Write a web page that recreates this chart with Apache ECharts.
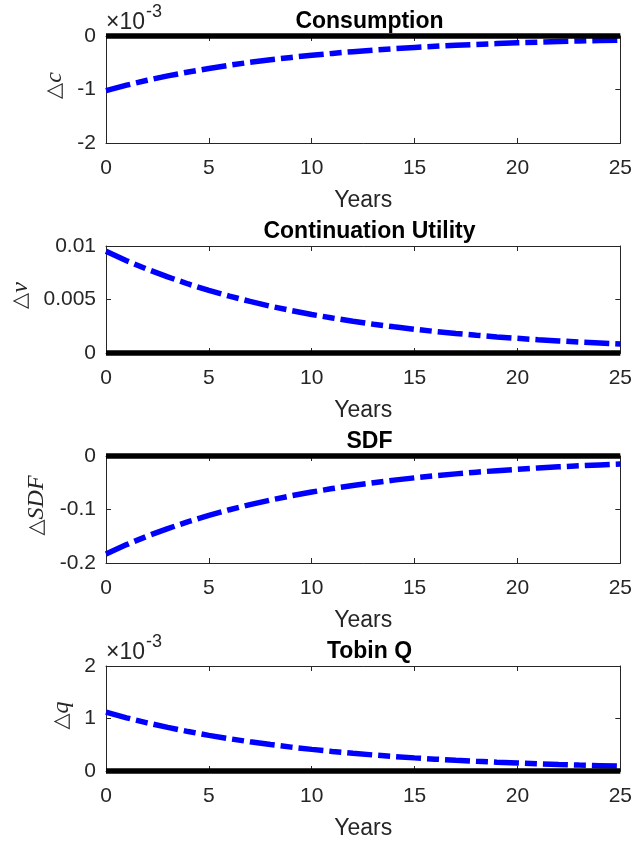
<!DOCTYPE html>
<html>
<head>
<meta charset="utf-8">
<script src="https://cdn.jsdelivr.net/npm/echarts@6/dist/echarts.min.js"></script>
<style>
  html, body { margin: 0; padding: 0; background: #fff; }
  #chart { width: 635px; height: 841px; }
</style>
</head>
<body>
<div id="chart"></div>
<script>
// Years after shock
const years = [0, 1, 2, 3, 4, 5, 6, 7, 8, 9, 10, 11, 12, 13, 14, 15, 16, 17, 18, 19, 20, 21, 22, 23, 24, 25];

// Consumption response, in units of 1e-3
const consumption = [-1.02, -0.919, -0.828, -0.746, -0.673, -0.606, -0.546, -0.492, -0.444, -0.400,
    -0.360, -0.325, -0.293, -0.264, -0.238, -0.214, -0.193, -0.174, -0.157, -0.141,
    -0.127, -0.115, -0.103, -0.093, -0.084, -0.076];

// Continuation utility response
const contUtility = [0.00950, 0.00862, 0.00783, 0.00711, 0.00645, 0.00585, 0.00531, 0.00482, 0.00437, 0.00397,
    0.00360, 0.00327, 0.00297, 0.00269, 0.00245, 0.00222, 0.00201, 0.00183, 0.00166, 0.00150,
    0.00137, 0.00124, 0.00113, 0.00102, 0.00093, 0.00084];

// SDF response
const sdf = [-0.183, -0.1656, -0.1498, -0.1356, -0.1227, -0.1110, -0.1004, -0.0909, -0.0822, -0.0744,
    -0.0673, -0.0609, -0.0551, -0.0499, -0.0451, -0.0408, -0.0370, -0.0334, -0.0302, -0.0274,
    -0.0248, -0.0224, -0.0203, -0.0184, -0.0166, -0.0150];

// Tobin Q response, in units of 1e-3
const tobinQ = [1.120, 1.013, 0.917, 0.830, 0.751, 0.679, 0.615, 0.556, 0.503, 0.455,
    0.412, 0.373, 0.337, 0.305, 0.276, 0.250, 0.226, 0.205, 0.185, 0.167,
    0.152, 0.137, 0.124, 0.112, 0.102, 0.092];

const zeroLine = [0, 0];
const zeroYears = [0, 25];

const xTicks = { min: 0, max: 25, interval: 5 };

const panels = [
    { title: 'Consumption', data: consumption, min: -2, max: 0, interval: 1, label: 'c', exp: true, labelX: 55 },
    { title: 'Continuation Utility', data: contUtility, min: 0, max: 0.01, interval: 0.005, label: 'v', exp: false, labelX: 21 },
    { title: 'SDF', data: sdf, min: -0.2, max: 0, interval: 0.1, label: 'SDF', exp: false, labelX: 37 },
    { title: 'Tobin Q', data: tobinQ, min: 0, max: 2, interval: 1, label: 'q', exp: true, labelX: 62 }
];

const AX = '#262626';
const FONT = 'Liberation Sans';
const gridLeft = 106, gridRight = 12, gridH = 107;
const tops = [36, 246, 456, 666];
const midX = gridLeft + (635 - gridLeft - gridRight) / 2;

const grid = [], xAxis = [], yAxis = [], series = [], title = [], graphic = [];

panels.forEach((p, i) => {
    const top = tops[i];
    grid.push({ left: gridLeft, right: gridRight, top: top, height: gridH });

    const tick = { show: true, inside: true, length: 5, lineStyle: { color: AX, width: 1 } };
    const line = { show: true, onZero: false, lineStyle: { color: AX, width: 1 } };

    xAxis.push({
        type: 'value', gridIndex: i, position: 'bottom', ...xTicks,
        axisLine: line, axisTick: tick, splitLine: { show: false },
        axisLabel: { color: AX, fontFamily: FONT, fontSize: 21, margin: 15 },
        name: 'Years', nameLocation: 'middle', nameGap: 46,
        nameTextStyle: { color: AX, fontFamily: FONT, fontSize: 23 }
    });
    xAxis.push({
        type: 'value', gridIndex: i, position: 'top', ...xTicks,
        axisLine: line, axisTick: tick, splitLine: { show: false }, axisLabel: { show: false }
    });
    yAxis.push({
        type: 'value', gridIndex: i, position: 'left', min: p.min, max: p.max, interval: p.interval,
        axisLine: line, axisTick: tick, splitLine: { show: false },
        axisLabel: { color: AX, fontFamily: FONT, fontSize: 21, margin: 10 }
    });
    yAxis.push({
        type: 'value', gridIndex: i, position: 'right', min: p.min, max: p.max, interval: p.interval,
        axisLine: line, axisTick: tick, splitLine: { show: false }, axisLabel: { show: false }
    });

    series.push({
        type: 'line', xAxisIndex: 2 * i, yAxisIndex: 2 * i,
        data: years.map((t, k) => [t, p.data[k]]),
        showSymbol: false, clip: false,
        lineStyle: { color: '#0000ff', width: 5.5, type: [25, 6, 12, 6], cap: 'butt' },
        z: 3
    });
    series.push({
        type: 'line', xAxisIndex: 2 * i, yAxisIndex: 2 * i,
        data: zeroYears.map((t, k) => [t, zeroLine[k]]),
        showSymbol: false, clip: false,
        lineStyle: { color: '#000000', width: 5.5, cap: 'butt' },
        z: 4
    });

    title.push({
        text: p.title, left: midX, top: top - 31, textAlign: 'center',
        textStyle: { fontFamily: FONT, fontSize: 23, fontWeight: 'bold', color: '#000' }
    });

    graphic.push({
        type: 'text', x: p.labelX, y: top + gridH / 2 - 4, rotation: Math.PI / 2,
        style: {
            text: '{t|\u25B3}{v|' + p.label + '}',
            align: 'center', verticalAlign: 'middle',
            rich: {
                t: { fontFamily: 'DejaVu Sans', fontSize: 21, fill: AX },
                v: { fontFamily: 'Liberation Serif', fontStyle: 'italic', fontSize: 24, fill: AX }
            }
        }
    });

    if (p.exp) {
        graphic.push({
            type: 'text', x: gridLeft, y: top - 13,
            style: {
                text: '\u00d710', fontFamily: FONT, fontSize: 23, fill: AX,
                align: 'left', verticalAlign: 'middle'
            }
        });
        graphic.push({
            type: 'text', x: gridLeft + 40, y: top - 24,
            style: {
                text: '-3', fontFamily: FONT, fontSize: 18, fill: AX,
                align: 'left', verticalAlign: 'middle'
            }
        });
    }
});

const chart = echarts.init(document.getElementById('chart'));
chart.setOption({
    backgroundColor: '#ffffff',
    animation: false,
    title: title,
    grid: grid,
    xAxis: xAxis,
    yAxis: yAxis,
    series: series,
    graphic: graphic
});
</script>
</body>
</html>
